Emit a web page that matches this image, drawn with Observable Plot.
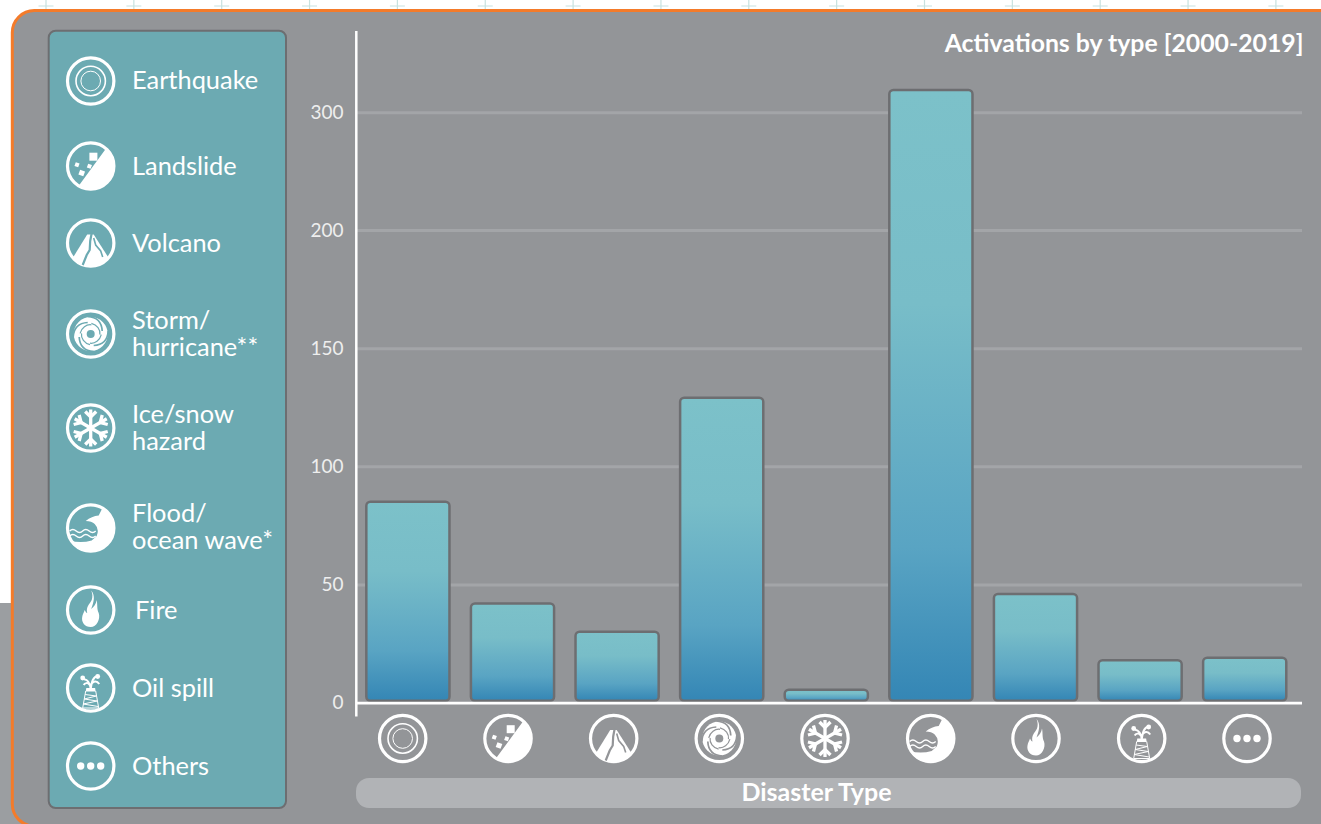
<!DOCTYPE html>
<html>
<head>
<meta charset="utf-8">
<script src="https://cdn.jsdelivr.net/npm/d3@7"></script>
<script src="https://cdn.jsdelivr.net/npm/@observablehq/plot@0.6"></script>
<style>html,body{margin:0;padding:0;background:#fff;overflow:hidden}svg{display:block}</style>
</head>
<body>
<div id="chart"></div>
<script>
const categories = ["Earthquake","Landslide","Volcano","Storm","Ice","Flood","Fire","Oil","Others"];
const activations = [85,42,30,129,5.5,319,46,18,19];
const yTicks = [0,50,100,150,200,300];
const legendLabels = ["Earthquake","Landslide","Volcano","Storm/\nhurricane**","Ice/snow\nhazard","Flood/\nocean wave*","Fire","Oil spill","Others"];
const chartTitle = "Activations by type [2000-2019]";
const axisTitle = "Disaster Type";

// layout
const W = 1321, H = 824, ML = 356, MR = 19;
const FONT = "Lato, 'Open Sans', sans-serif";
const legendRowY = [81,166,243,334,428,528,610,688,766];
const legendTextY = [80,166,243,333,427,526.5,610,688,766];
const legendTextX = [131.5,131.5,131.5,131.5,131.5,131.5,134.5,131.5,131.5];
const iconX = [402.7,508,613.7,719.3,825,930.7,1036,1141.7,1247];

const data = categories.map((c,i)=>({category:c,value:activations[i]}));

function glyph(c,bg){
  switch(c){
    case "Earthquake": return `<circle r="14.7" fill="none" stroke="#fff" stroke-width="1.6"/><circle r="9.8" fill="none" stroke="#fff" stroke-width="1"/>`;
    case "Landslide": return `<path fill="#fff" d="M15.7,-18 L-12.5,20.5 A24,24 0 0 0 15.7,-18Z"/>
      <rect x="-1.3" y="-13.3" width="8" height="8" fill="#fff"/>
      <rect x="-2" y="-2" width="4" height="4" fill="#fff" transform="translate(-1.3,0.3) rotate(20)"/>
      <rect x="-2" y="-2" width="4" height="4" fill="#fff" transform="translate(-13.7,-1.3) rotate(20)"/>
      <rect x="-2.6" y="-2.6" width="5.2" height="5.2" fill="#fff" transform="translate(-9,7) rotate(20)"/>`;
    case "Volcano": return `<path fill="#fff" d="M-18,15 L-3.5,-8.5 L3,-8.5 L18,15 A24,24 0 0 1 -18,15Z"/>
      <path fill="none" stroke="${bg}" stroke-width="2.2" d="M1,-10 L-0.5,-2 L-1,7 L-4,12 L-8,22"/>
      <path fill="none" stroke="${bg}" stroke-width="1.6" d="M3,-5 L5,2 L10,8 L12,14"/>`;
    case "Storm": {
      const slit = `<path fill="none" stroke="${bg}" stroke-width="1.7" d="M-3,-17.5 C5,-17 11,-13 11.5,-3"/>`;
      const inner = `<path fill="none" stroke="${bg}" stroke-width="1.2" d="M-7,-8 C-2,-11 4,-10 7,-6"/>`;
      return `<circle r="17" fill="#fff"/><circle r="4" fill="${bg}"/>
        ${[0,90,180,270].map(a=>`<g transform="rotate(${a})">${slit}</g><g transform="rotate(${a+45})">${inner}</g>`).join("")}`;
    }
    case "Ice": return [0,60,120,180,240,300].map(a=>`<g transform="rotate(${a})" fill="none" stroke="#fff" stroke-width="3.3"><path d="M0,0V-18.5"/><path d="M-5.5,-16.5L0,-11L5.5,-16.5"/></g>`).join("");
    case "Flood": return `<path fill="#fff" d="M-21,12.5 Q-10,15.5 1,12.5 L6,8 Q9,1 4,-4 Q1,-7 -5,-7 Q1,-12 8,-12.5 L12,-20.5 A24,24 0 1 1 -21,12.5Z"/>
      <path fill="none" stroke="#fff" stroke-width="1.4" d="M-21,3 q3,-3 6.5,0 t6.5,0 t6.5,0 t6.5,0"/>
      <path fill="none" stroke="#fff" stroke-width="1.4" d="M-21,8 q3,-3 6.5,0 t6.5,0 t6.5,0 t6.5,0"/>`;
    case "Fire": return `<path fill="#fff" d="M0.5,-19.5 C5,-14 3,-8 0.5,-1 C3,-3 5.5,-6 6,-10 C7,-5 6,-1 8,3 C10,9 6,17 0,17 C-6,17 -9.5,12 -8.5,7 C-8,4 -7,3 -6,0 C-5,2 -4.5,3 -3.5,3 C-5,-3 -1,-6 1,-10 C2,-13 2,-16 0.5,-19.5Z"/>`;
    case "Oil": return `<path fill="#fff" d="M-4.4,0 H4.4 L5,3.5 H-5Z"/>
      <path fill="none" stroke="#fff" stroke-width="1" d="M-5,3 L-8,20 H8 L5,3 M-5.5,6.5 L5.7,8 L-6.5,11 L6.5,13 L-7.5,16 L7.5,18.5"/>
      <path fill="none" stroke="#fff" stroke-width="2" d="M0,1 C-0.5,-5 -2,-8 -7,-9 M0,1 C1,-6 2,-11 7,-12 M0,-3 C2,-7 6,-8 8.5,-4 M-1,-3 C-3,-6 -6,-5 -7,-3"/>
      <circle cx="-8" cy="-10" r="2.4" fill="#fff"/><circle cx="7" cy="-11.5" r="2.4" fill="#fff"/>`;
    default: return `<circle cx="-10" r="3.7" fill="#fff"/><circle r="3.7" fill="#fff"/><circle cx="10" r="3.7" fill="#fff"/>`;
  }
}
function iconG(c,x,y,bg){
  return `<g transform="translate(${x},${y})"><circle r="23.2" fill="none" stroke="#fff" stroke-width="3.2"/>${glyph(c,bg)}</g>`;
}
function svgG(html){
  const g = document.createElementNS("http://www.w3.org/2000/svg","g");
  g.innerHTML = html;
  return g;
}

// Page furniture behind the chart
function furniture(){
  let crosses = "";
  for(let i=0;i<15;i++){
    const x = 46+87.85*i;
    crosses += `<path d="M${x},0V9M${x-7.5},6H${x+7.5}" stroke="#c8e2df" stroke-width="1.2" fill="none"/>`;
  }
  return svgG(`
    <defs><linearGradient id="barGrad" x1="0" y1="0" x2="0" y2="1">
      <stop offset="0" stop-color="#7cc1c9"/><stop offset="0.35" stop-color="#78bdc8"/>
      <stop offset="0.75" stop-color="#59a4c3"/><stop offset="1" stop-color="#3486b5"/>
    </linearGradient></defs>
    <rect width="${W}" height="${H}" fill="#fff"/>
    ${crosses}
    <rect x="0" y="603" width="40" height="221" fill="#9b9ea1"/>
    <rect x="12.3" y="10.6" width="1360" height="815.5" rx="22" fill="#939598" stroke="#f47b2a" stroke-width="3"/>
    <rect x="48.7" y="30.7" width="237.3" height="777.3" rx="7" fill="#6caab2" stroke="#6d6e71" stroke-width="2"/>
    <rect x="356" y="778" width="945" height="30" rx="13" fill="#b1b3b6"/>
  `);
}
function axisLine(){
  return svgG(`<line x1="356.3" x2="356.3" y1="31" y2="716.5" stroke="#fff" stroke-width="2.5"/>`);
}
function legendIcons(){
  return svgG(categories.map((c,i)=>iconG(c,90.7,legendRowY[i],"#6caab2")).join(""));
}
function axisIcons(){
  return svgG(categories.map((c,i)=>iconG(c,iconX[i],738.5,"#939598")).join(""));
}

const legendTexts = legendLabels.map((t,i)=>Plot.text([t],{
  frameAnchor:"top-left", text:d=>d, textAnchor:"start", lineAnchor:"middle",
  dx:legendTextX[i]-ML, dy:legendTextY[i], fontSize:25.4, lineHeight:1.06, fill:"#fff", fontFamily:FONT
}));

const chart = Plot.plot({
  width:W, height:H,
  marginLeft:ML, marginRight:MR, marginTop:0, marginBottom:0,
  style:{background:"transparent", fontFamily:FONT},
  x:{domain:categories, type:"band", range:[355.6,1297], paddingInner:0.205, paddingOuter:0.1025, round:false, axis:null},
  y:{type:"linear", domain:yTicks, range:[702.7,584.5,466.3,348.2,230,112.3], axis:null},
  marks:[
    furniture,
    Plot.gridY(yTicks.slice(1),{stroke:"#a3a5a8",strokeOpacity:1,strokeWidth:3}),
    Plot.barY(data,{x:"category",y:"value",fill:"url(#barGrad)",stroke:"#6d6e71",strokeWidth:2.5,rx:4,insetBottom:2}),
    Plot.ruleY([0],{stroke:"#fff",strokeWidth:2.7}),
    axisLine,
    Plot.axisY({ticks:yTicks,anchor:"left",tickSize:0,tickPadding:13,label:null,fontSize:19,color:"#eeeeee",tickFormat:d=>String(d)}),
    axisIcons,
    legendIcons,
    ...legendTexts,
    Plot.text([chartTitle],{frameAnchor:"top-right",text:d=>d,textAnchor:"end",lineAnchor:"middle",dy:44,dx:1,fontSize:24.8,fontWeight:"bold",fill:"#fff",fontFamily:FONT}),
    Plot.text([axisTitle],{frameAnchor:"top-left",text:d=>d,textAnchor:"middle",lineAnchor:"middle",dx:816-ML,dy:792.5,fontSize:25,fontWeight:"bold",fill:"#fff",fontFamily:FONT})
  ]
});
document.getElementById("chart").append(chart);
</script>
</body>
</html>
